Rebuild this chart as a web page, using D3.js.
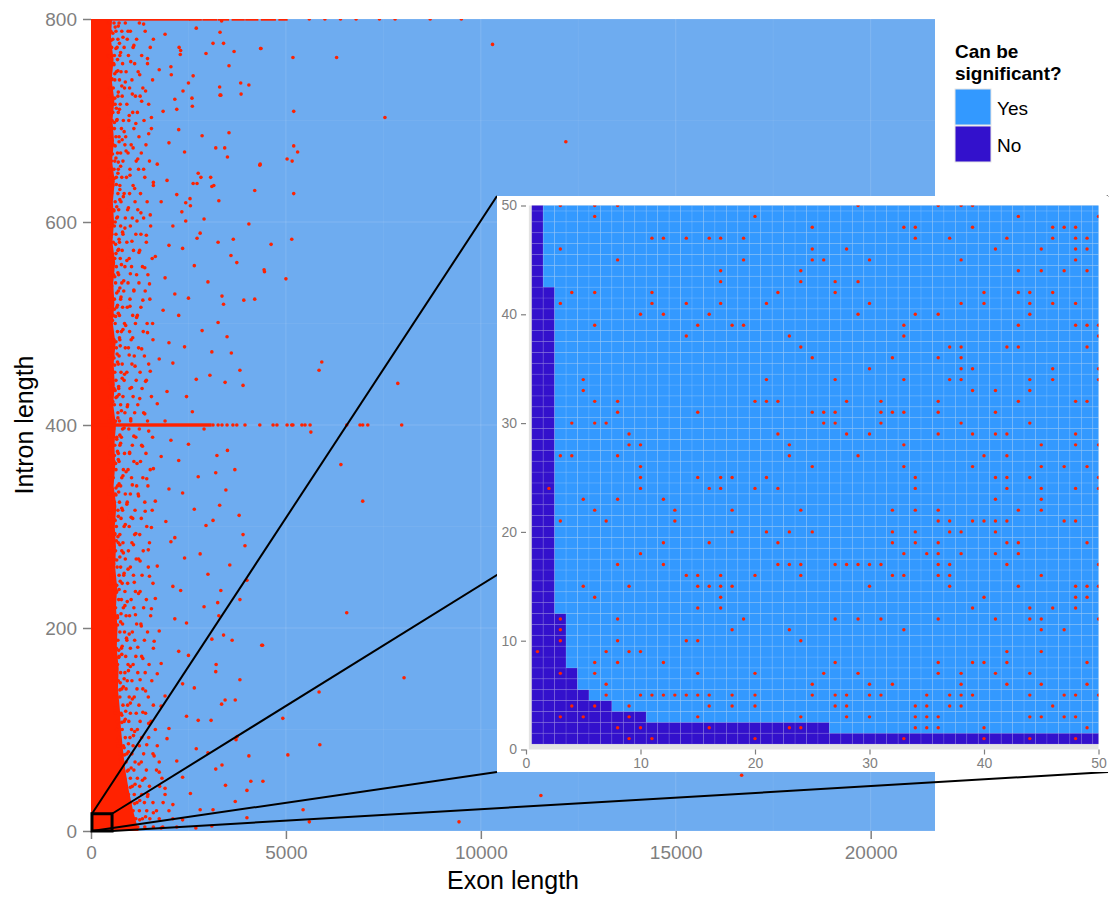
<!DOCTYPE html>
<html>
<head>
<meta charset="utf-8">
<script src="https://cdn.jsdelivr.net/npm/d3@7"></script>
<style>
body { margin: 0; background: #fff; }
svg text { font-family: "Liberation Sans", Arial, Helvetica, sans-serif; }
</style>
</head>
<body>
<script>
// ---- main scatter data (exon length, intron length) ----
var xTicks = [0, 5000, 10000, 15000, 20000];
var yTicks = [0, 200, 400, 600, 800];

// right edge of the saturated red band near exon = 0, per intron value
var denseEdge = [
  [800, 540], [780, 510], [760, 580], [740, 530], [720, 600], [700, 550], [680, 590],
  [660, 540], [640, 610], [620, 560], [600, 590], [580, 550], [560, 620], [540, 570],
  [520, 600], [500, 560], [480, 630], [460, 580], [440, 610], [420, 570], [400, 640],
  [380, 600], [360, 620], [340, 580], [320, 650], [300, 610], [280, 640], [260, 620],
  [240, 670], [220, 640], [200, 680], [180, 660], [160, 710], [140, 690], [120, 740],
  [100, 770], [80, 820], [60, 880], [40, 970], [20, 1080], [0, 1220]
];

// runs of overlapping dots along intron = 800 and intron = 400
var top800Runs = [[0, 2500], [2560, 2800], [2900, 3200], [3300, 3500], [3650, 3900], [4000, 4250], [4400, 4700], [4850, 5000]];
var top800Points = [5600, 6000, 6400, 6800, 7400, 7800, 8700, 9500];
var row400Runs = [[0, 3050]];
var row400Points = [3130, 3260, 3360, 3490, 3640, 3740, 3950, 4330, 4670, 4770, 5030, 5150, 5180, 5410, 5490, 5620, 6560, 6900, 6970, 7100, 7970];

// crowded dots just right of the band: [intron, [exon lengths]]
var innerRows = [
  [796, [455, 590, 720, 880, 1240]], [788, [510, 640, 790, 1010, 1390]],
  [780, [470, 560, 690, 930, 1170]], [772, [530, 670, 850, 1080, 1520]],
  [764, [440, 600, 740, 960, 1300]], [756, [495, 580, 810, 1120, 1450]],
  [748, [460, 650, 770, 900, 1210]], [740, [520, 610, 730, 1050, 1580]],
  [732, [480, 570, 860, 990, 1330]], [724, [450, 690, 800, 1140, 1260]],
  [716, [505, 620, 750, 920, 1480]], [708, [470, 560, 700, 1070, 1190]],
  [700, [540, 660, 830, 970, 1360]], [692, [460, 600, 780, 1100, 1550]],
  [684, [515, 640, 720, 890, 1230]], [676, [480, 570, 870, 1030, 1410]],
  [668, [450, 680, 760, 950, 1290]], [660, [525, 610, 820, 1160, 1500]],
  [652, [470, 590, 700, 1000, 1220]], [644, [500, 650, 790, 910, 1380]],
  [636, [455, 560, 740, 1080, 1600]], [628, [530, 690, 850, 990, 1270]],
  [620, [480, 620, 770, 1130, 1440]], [612, [445, 580, 710, 940, 1200]],
  [604, [510, 660, 880, 1060, 1350]], [596, [470, 600, 760, 1010, 1530]],
  [588, [535, 640, 820, 1150, 1280]], [580, [460, 570, 730, 920, 1420]],
  [572, [500, 690, 800, 1090, 1250]], [564, [450, 610, 750, 980, 1570]],
  [556, [525, 650, 870, 1040, 1320]], [548, [480, 580, 710, 1170, 1460]],
  [540, [510, 630, 790, 950, 1230]], [532, [460, 700, 840, 1100, 1390]],
  [524, [540, 600, 760, 1000, 1510]], [516, [470, 660, 810, 930, 1280]],
  [508, [500, 570, 730, 1070, 1190]], [500, [455, 620, 860, 1140, 1440]],
  [492, [530, 680, 780, 990, 1340]], [484, [480, 590, 740, 1030, 1590]],
  [476, [510, 650, 880, 960, 1220]], [468, [465, 560, 720, 1110, 1370]],
  [460, [545, 700, 800, 1050, 1480]], [452, [490, 610, 770, 920, 1260]],
  [444, [455, 640, 850, 1160, 1420]], [436, [520, 590, 710, 1000, 1310]],
  [428, [480, 670, 820, 1080, 1550]], [420, [505, 600, 760, 940, 1200]],
  [412, [540, 690, 870, 1120, 1350]], [404, [470, 630, 730, 1020, 1450]],
  [396, [515, 580, 810, 970, 1240]], [388, [460, 660, 780, 1150, 1580]],
  [380, [530, 610, 740, 1060, 1300]], [372, [490, 700, 860, 990, 1410]],
  [364, [455, 590, 720, 1100, 1270]], [356, [545, 640, 830, 950, 1520]],
  [348, [480, 570, 790, 1040, 1330]], [340, [510, 680, 760, 1170, 1460]],
  [332, [470, 620, 880, 1010, 1210]], [324, [535, 600, 730, 930, 1380]],
  [316, [495, 690, 810, 1130, 1570]], [308, [460, 580, 770, 1070, 1290]],
  [300, [525, 650, 850, 980, 1430]], [292, [480, 610, 740, 1120, 1250]],
  [284, [550, 700, 820, 1050, 1500]], [276, [500, 630, 790, 960, 1340]],
  [268, [470, 590, 880, 1160, 1220]], [260, [540, 670, 760, 1010, 1470]],
  [252, [510, 720, 840, 1090, 1310]], [244, [480, 600, 800, 940, 1590]],
  [236, [560, 660, 870, 1140, 1260]], [228, [520, 710, 780, 1030, 1420]],
  [220, [490, 630, 830, 1100, 1350]], [212, [570, 680, 900, 990, 1530]],
  [204, [530, 610, 810, 1170, 1280]], [196, [500, 740, 860, 1060, 1450]],
  [188, [580, 690, 920, 1120, 1370]], [180, [540, 650, 780, 1010, 1600]],
  [172, [600, 720, 890, 1150, 1300]], [164, [560, 680, 950, 1080, 1490]],
  [156, [610, 760, 870, 1200, 1390]], [148, [580, 700, 930, 1050, 1560]],
  [140, [630, 790, 900, 1180, 1330]], [132, [600, 740, 980, 1110, 1470]],
  [124, [650, 820, 940, 1230, 1600]], [116, [620, 770, 1010, 1160, 1400]],
  [108, [680, 850, 970, 1260, 1540]], [100, [660, 800, 1040, 1190, 1650]],
  [92, [710, 880, 1000, 1300, 1480]], [84, [690, 830, 1080, 1240, 1700]],
  [76, [750, 920, 1050, 1350, 1590]], [68, [780, 900, 1130, 1290, 1750]],
  [60, [820, 960, 1100, 1420, 1680]], [52, [860, 1010, 1190, 1380, 1820]],
  [44, [900, 1060, 1250, 1500, 1760]], [36, [960, 1110, 1300, 1460, 1900]],
  [28, [1020, 1180, 1370, 1590, 1850]], [20, [1080, 1240, 1430, 1680, 2000]],
  [12, [1150, 1320, 1510, 1750, 2100]], [4, [1200, 1380, 1600, 1840, 2200]]
];

var fringePoints = [
  [480,797],[560,786],[620,792],[700,793],[950,788],[1350,795],[1900,785],[2700,791],[3350,798],
  [520,779],[640,771],[730,776],[820,782],[1100,774],[1600,780],[2300,769],[3400,776],
  [470,763],[590,755],[680,760],[760,767],[1020,758],[1450,761],[2050,753],[2950,766],[4350,771],
  [540,741],[610,746],[690,749],[880,738],[1250,745],[1750,750],[2500,737],
  [500,731],[610,722],[700,728],[790,734],[1060,726],[1400,729],[2150,721],[3300,733],
  [460,707],[580,716],[650,712],[730,711],[980,705],[1300,719],[1850,709],[2600,714],[3850,726],
  [530,693],[600,698],[670,701],[850,689],[1150,697],[1550,703],[2250,691],
  [490,684],[620,675],[720,679],[800,681],[1080,673],[1480,687],[2000,678],[2850,685],
  [550,667],[640,663],[700,659],[900,670],[1200,662],[1700,657],[2400,669],[3500,664],
  [480,651],[600,643],[690,648],[760,655],[1000,646],[1350,652],[1950,641],[2750,648],
  [520,629],[650,637],[740,632],[830,625],[1120,633],[1600,639],[2200,627],[3100,635],[4200,631],
  [470,618],[590,611],[660,615],[740,622],[960,614],[1280,609],[1800,620],[2550,616],
  [540,597],[620,600],[680,605],[870,594],[1180,601],[1520,607],[2100,596],[2900,603],
  [500,585],[630,578],[720,583],[810,590],[1050,581],[1420,587],[2000,577],[2800,589],[3650,583],
  [560,565],[640,569],[710,573],[920,562],[1230,570],[1650,566],[2350,574],
  [490,552],[610,546],[690,550],[780,558],[1010,549],[1380,555],[1900,545],[2650,557],[4450,551],
  [530,537],[660,530],[740,535],[840,542],[1100,533],[1500,539],[2150,529],[3000,541],
  [480,521],[600,514],[680,518],[770,526],[1000,517],[1330,523],[1850,513],[2500,525],[3400,519],
  [550,503],[630,507],[700,510],[890,498],[1170,506],[1580,500],[2250,508],
  [510,489],[640,482],[730,486],[820,494],[1070,486],[1450,491],[2000,481],[2850,493],
  [470,473],[590,466],[670,470],[750,478],[980,469],[1300,475],[1750,465],[2400,477],[3600,471],
  [540,455],[610,459],[680,462],[860,450],[1130,458],[1520,453],[2100,461],[3050,449],
  [500,441],[620,434],[710,438],[800,446],[1040,437],[1400,443],[1950,433],[2700,445],[3900,439],
  [560,423],[640,427],[720,430],[930,418],[1250,426],[1700,421],[2450,428],
  [490,409],[610,403],[690,407],[780,414],[1020,406],[1380,411],[1900,404],[2600,413],
  [530,391],[660,386],[740,390],[850,397],[1100,389],[1480,394],[2050,385],[2900,396],
  [480,377],[600,370],[680,374],[760,382],[990,373],[1320,379],[1800,369],[2500,381],[3500,375],
  [550,359],[630,362],[700,366],[900,354],[1180,362],[1600,357],[2250,365],[3200,353],
  [500,345],[640,338],[720,342],[820,350],[1060,341],[1430,347],[2000,337],[2750,349],
  [560,327],[640,331],[710,334],[920,322],[1220,330],[1650,325],[2350,333],[3300,321],
  [490,313],[620,306],[700,310],[790,318],[1030,309],[1390,315],[1920,305],[2650,317],[3800,311],
  [540,297],[610,293],[690,290],[880,302],[1150,293],[1550,299],[2150,289],[2950,301],
  [510,279],[650,286],[740,282],[830,274],[1090,282],[1470,277],[2050,285],[2800,273],[3950,281],
  [580,263],[660,267],[740,270],[950,258],[1260,266],[1700,261],[2400,269],
  [520,249],[660,242],[750,246],[850,254],[1110,245],[1500,251],[2100,241],[3000,253],[4000,247],
  [570,231],[650,235],[720,238],[930,226],[1220,234],[1650,229],[2300,237],[3250,225],
  [530,217],[680,210],[770,214],[870,222],[1140,213],[1550,219],[2150,209],[2900,221],
  [600,199],[680,203],[760,206],[980,194],[1290,202],[1750,197],[2450,205],[3400,193],
  [560,185],[710,178],[800,182],[910,190],[1200,181],[1620,187],[2250,177],[3100,189],[4400,183],
  [620,167],[710,171],[790,174],[1010,162],[1330,170],[1800,165],[2500,173],
  [590,153],[750,146],[850,150],[960,158],[1260,149],[1700,155],[2350,145],[3200,157],
  [650,135],[740,139],[830,142],[1060,130],[1400,138],[1900,133],[2650,141],[3700,129],
  [620,121],[790,114],[890,118],[1010,126],[1330,117],[1800,123],[2450,113],[3350,125],
  [700,103],[790,107],[880,110],[1120,98],[1480,106],[2000,101],[2750,109],
  [670,89],[850,82],[960,86],[1090,94],[1430,85],[1950,91],[2700,81],[3750,93],
  [760,71],[860,75],[960,78],[1230,66],[1620,74],[2200,69],[3000,77],
  [820,55],[930,59],[1030,62],[1320,50],[1750,58],[2350,53],[3200,61],[4100,49],
  [900,39],[1010,43],[1130,46],[1450,34],[1900,42],[2550,37],[3450,45],
  [1000,23],[1120,27],[1250,30],[1600,18],[2100,26],[2800,21],[3700,29],
  [1100,7],[1250,11],[1400,14],[1800,3],[2350,11],[3100,5],[4000,13],[5600,9]
];

var sparsePoints = [
  [10300,775],[12180,679],[7540,703],[6300,762],[5180,762],[5200,709],[5200,675],[5030,662],
  [5200,628],[5150,583],[5000,544],[5920,462],[5850,454],[7870,441],[4440,553],[4620,578],
  [4330,656],[4200,524],[3670,768],[4360,771],[3330,725],[5640,393],[6410,361],[6970,325],
  [6560,215],[5850,137],[5870,85],[5050,75],[4410,49],[5440,21],[8030,151],[9440,9],
  [11540,35],[16690,55],[4920,111],[4050,74],[3280,212],[4380,183],
  [3130,776],[3310,787],[3540,754],[3840,737],[4050,735],[3310,725],[3540,688],[3200,673],
  [3430,673],[4340,657],[5160,660],[5300,669],[4050,598],[3260,580],[2720,584],[2620,638],
  [2720,638],[2820,644],[3070,644],[3150,636],[3280,621],[2430,619],[2540,623],[2330,610],
  [2430,601],[2620,744],[2590,722],[2360,729],[2200,711],[2260,772],[2290,765],[2060,745],
  [3590,567],[3740,560],[3360,527],[3920,523],[3260,501],[3490,487],[3100,472],[3820,454],
  [3440,442],[3230,370],[3690,356],[3460,336],[3130,306],[3900,292],[3560,262],[3330,237],
  [3820,228],[3620,188],[3210,164],[3820,149],[3440,129],[3080,109],[3720,90],[3360,65],
  [4000,40],[3130,21],[2690,3]
];

// ---- inset data: 1..50 x 1..50 grid ----
var insetTicks = [0, 10, 20, 30, 40, 50];
// highest intron length (per exon length 1..50) that can NOT be significant
var noMax = [50, 42, 12, 7, 5, 4, 4, 3, 3, 3,
  2, 2, 2, 2, 2, 2, 2, 2, 2, 2, 2, 2, 2, 2, 2, 2,
  1, 1, 1, 1, 1, 1, 1, 1, 1, 1, 1, 1, 1, 1, 1, 1, 1, 1, 1, 1, 1, 1, 1, 1];
// observed genes in the inset: [intron length, [exon lengths]]
var insetRows = [
  [50, [3,6,8,29,36,38,39]],
  [49, [6,20,43,50]],
  [48, [25,33,34,39,46,47,48]],
  [47, [11,12,14,16,17,19,34,37,42,46,48,49]],
  [46, [3,25,28,41,45,48,49]],
  [45, [8,19,25,26,30,38,48]],
  [44, [17,24,43,45,47,49]],
  [43, [17,24,27,29]],
  [42, [4,6,11,22,27,40,43,44,46]],
  [41, [3,11,14,17,21,30,38,40,44,46,48]],
  [40, [10,12,16,29,34,36,44]],
  [39, [6,15,18,19,33,43,48,49,50]],
  [38, [14,23,33,50]],
  [37, [24,37,38,42,43,49]],
  [36, [25,32,36,38]],
  [35, [30,38,39,46,50]],
  [34, [5,21,27,33,37,38,44,46,50]],
  [33, [5,39,41,44]],
  [32, [6,8,20,21,22,28,31,36,43,48,49]],
  [31, [8,15,25,26,27,31,32,33,36,41]],
  [30, [4,6,7,26,27,31,38,44]],
  [29, [9,22,28,30,36,39,41,42,48]],
  [28, [9,10,23,33,45,48,50]],
  [27, [3,4,8,23,29,40,42]],
  [26, [10,25,33,39,45,47,49]],
  [25, [10,15,17,18,21,34,41,42,44,50]],
  [24, [2,10,16,17,20,22,34,42,45,48,50]],
  [23, [5,8,12,41,45]],
  [22, [6,13,18,24,32,34,36,43,45]],
  [21, [3,7,13,36,37,39,40,41,42,47,48]],
  [20, [18,21,23,25,32,34,37,38,41]],
  [19, [12,16,22,32,34,36,42,43,49]],
  [18, [10,33,35,36,38,41,43]],
  [17, [8,12,22,23,24,27,28,29,30,31,36,37,42,50]],
  [16, [14,15,17,20,24,32,33,36,37,45]],
  [15, [5,9,15,16,17,18,30,37,43,48,49,50]],
  [14, [6,17,40,48,49]],
  [13, [15,17,39,44,46,48]],
  [12, [3,8,19,27,29,31,36,41,44,45,50]],
  [11, [3,18,23,33,45,47]],
  [10, [3,8,14,15,24]],
  [9, [1,7,9,10,42,45]],
  [8, [6,8,12,27,36,39,40,42,49]],
  [7, [3,6,15,20,26,29,36,38,41,44]],
  [6, [7,25,30,32,38,42,45,49]],
  [5, [7,10,11,12,13,14,15,16,18,20,25,27,28,30,31,35,37,38,39,44,47,48,50]],
  [4, [4,6,9,16,18,20,27,28,34,35,37,38,46]],
  [3, [3,5,9,15,24,28,30,34,35,36,44,45,47,48]],
  [2, [8,10,16,23,24,34,35,36,40,49]],
  [1, [9,11,20,33,40,44,48]]
];

var legendKeys = ["Yes", "No"];
var legendColors = ["#3399ff", "#3311cc"];

var width = 1112, height = 900;
var red = "#ff2200", grey = "#7f7f7f";

var svg = d3.select("body").append("svg")
    .attr("width", width)
    .attr("height", height);

// ---------- main plot ----------
var x = d3.scaleLinear().domain([0, 21650]).range([91, 935]);
var y = d3.scaleLinear().domain([0, 800]).range([831, 19]);

svg.append("defs").append("clipPath").attr("id", "mainClip")
  .append("rect")
    .attr("x", x(0)).attr("y", y(800))
    .attr("width", x.range()[1] - x(0)).attr("height", y(0) - y(800));

svg.append("rect")
    .attr("x", x(0)).attr("y", y(800))
    .attr("width", x.range()[1] - x(0)).attr("height", y(0) - y(800))
    .attr("fill", "#6eacf0");

var grid = svg.append("g").attr("class", "grid");
grid.selectAll(".vx").data(d3.range(0, 21650, 2500)).enter().append("line")
    .attr("x1", d => x(d)).attr("x2", d => x(d))
    .attr("y1", y(800)).attr("y2", y(0))
    .attr("stroke", "#fff").attr("stroke-opacity", d => d % 5000 ? 0.06 : 0.14);
grid.selectAll(".hy").data(d3.range(0, 801, 100)).enter().append("line")
    .attr("y1", d => y(d)).attr("y2", d => y(d))
    .attr("x1", x(0)).attr("x2", x.range()[1])
    .attr("stroke", "#fff").attr("stroke-opacity", d => d % 200 ? 0.06 : 0.14);

var pts = svg.append("g").attr("clip-path", "url(#mainClip)");

var band = d3.area()
    .y(d => y(d[0]))
    .x0(x(0))
    .x1(d => x(d[1]));
pts.append("path").datum(denseEdge).attr("d", band).attr("fill", red);

// runs along 800 and 400
var runs = top800Runs.map(r => [800, r[0], r[1]]).concat(row400Runs.map(r => [400, r[0], r[1]]));
pts.selectAll(".run").data(runs).enter().append("rect")
    .attr("x", d => x(d[1]) - 1.7)
    .attr("width", d => x(d[2]) - x(d[1]) + 3.4)
    .attr("y", d => y(d[0]) - 1.7)
    .attr("height", 3.4)
    .attr("fill", red);

var innerPoints = [];
innerRows.forEach(function(r) {
  r[1].forEach(function(e) { innerPoints.push([e, r[0]]); });
});

var allPoints = innerPoints.concat(fringePoints).concat(sparsePoints)
    .concat(top800Points.map(v => [v, 800]))
    .concat(row400Points.map(v => [v, 400]));

pts.selectAll("circle").data(allPoints).enter().append("circle")
    .attr("cx", d => x(d[0]))
    .attr("cy", d => y(d[1]))
    .attr("r", 1.8)
    .attr("fill", red);

// axes
var xAxis = svg.append("g")
    .attr("transform", "translate(0," + y(0) + ")")
    .call(d3.axisBottom(x).tickValues(xTicks).tickFormat(d3.format("d")).tickSize(8).tickPadding(7));
var yAxis = svg.append("g")
    .attr("transform", "translate(" + x(0) + ",0)")
    .call(d3.axisLeft(y).tickValues(yTicks).tickSize(8).tickPadding(6));
[xAxis, yAxis].forEach(function(a) {
  a.select(".domain").remove();
  a.selectAll(".tick line").attr("stroke", grey).attr("stroke-width", 1.5);
  a.selectAll(".tick text").attr("fill", grey).style("font-size", "19px");
});

svg.append("text")
    .attr("x", (x(0) + x.range()[1]) / 2)
    .attr("y", 889)
    .attr("text-anchor", "middle")
    .style("font-size", "25px")
    .text("Exon length");

svg.append("text")
    .attr("transform", "translate(33," + (y(400)) + ") rotate(-90)")
    .attr("text-anchor", "middle")
    .style("font-size", "25px")
    .text("Intron length");

// ---------- zoom lines + box ----------
var box = {x0: 25, x1: 540, y0: 0, y1: 17};
var inset = {left: 497, right: 1108, top: 196, bottom: 772};
var boxL = x(box.x0), boxR = x(box.x1), boxT = y(box.y1), boxB = y(box.y0);

var zl = [
  [boxL, boxT, inset.left, inset.top],
  [boxR, boxT, inset.right, inset.top],
  [boxL, boxB, inset.left, inset.bottom],
  [boxR, boxB, inset.right, inset.bottom]
];
svg.selectAll(".zoomline").data(zl).enter().append("line")
    .attr("x1", d => d[0]).attr("y1", d => d[1])
    .attr("x2", d => d[2]).attr("y2", d => d[3])
    .attr("stroke", "#000").attr("stroke-width", 2);

svg.append("rect")
    .attr("x", boxL).attr("y", boxT)
    .attr("width", boxR - boxL).attr("height", boxB - boxT)
    .attr("fill", "none").attr("stroke", "#000").attr("stroke-width", 3);

// ---------- inset ----------
var ins = svg.append("g").attr("class", "inset");
ins.append("rect")
    .attr("x", inset.left).attr("y", inset.top)
    .attr("width", inset.right - inset.left).attr("height", inset.bottom - inset.top)
    .attr("fill", "#fff");

var xi = d3.scaleLinear().domain([0, 50]).range([526, 1098.5]);
var yi = d3.scaleLinear().domain([0, 50]).range([749.5, 205.5]);

ins.append("defs").append("clipPath").attr("id", "insetClip")
  .append("rect")
    .attr("x", xi(0.25)).attr("y", yi(50))
    .attr("width", xi(50) - xi(0.25)).attr("height", yi(0) - yi(50));

ins.append("rect")
    .attr("x", xi(0.25)).attr("y", yi(50))
    .attr("width", xi(50) - xi(0.25)).attr("height", yi(0) - yi(50))
    .attr("fill", "#e3e3e3");

var cells = [];
noMax.forEach(function(m, i) {
  for (var j = 1; j <= 50; j++) cells.push({ex: i + 1, in: j, no: j <= m});
});

var tiles = ins.append("g").attr("clip-path", "url(#insetClip)");
tiles.selectAll("rect").data(cells).enter().append("rect")
    .attr("x", d => xi(d.ex - 0.5))
    .attr("y", d => yi(d.in + 0.5))
    .attr("width", xi(1) - xi(0))
    .attr("height", yi(0) - yi(1))
    .attr("fill", d => d.no ? legendColors[1] : legendColors[0])
    .attr("stroke", "rgba(255,255,255,0.13)")
    .attr("stroke-width", 0.8);

var insetPts = [];
insetRows.forEach(function(r) {
  r[1].forEach(function(e) { insetPts.push([e, r[0]]); });
});
tiles.selectAll("circle").data(insetPts).enter().append("circle")
    .attr("cx", d => xi(d[0]))
    .attr("cy", d => yi(d[1]))
    .attr("r", 1.7)
    .attr("fill", red);

var xiAxis = ins.append("g")
    .attr("transform", "translate(0," + yi(0) + ")")
    .call(d3.axisBottom(xi).tickValues(insetTicks).tickSize(5).tickPadding(4));
var yiAxis = ins.append("g")
    .attr("transform", "translate(" + xi(0) + ",0)")
    .call(d3.axisLeft(yi).tickValues(insetTicks).tickSize(5).tickPadding(4));
[xiAxis, yiAxis].forEach(function(a) {
  a.select(".domain").remove();
  a.selectAll(".tick line").attr("stroke", grey).attr("stroke-width", 1.2);
  a.selectAll(".tick text").attr("fill", grey).style("font-size", "14px");
});

// ---------- legend ----------
var lg = svg.append("g").attr("transform", "translate(955,0)");
lg.append("text").attr("x", 0).attr("y", 58)
    .style("font-size", "19px").style("font-weight", "bold").text("Can be");
lg.append("text").attr("x", 0).attr("y", 80)
    .style("font-size", "19px").style("font-weight", "bold").text("significant?");

var key = lg.selectAll(".key").data(legendKeys).enter().append("g")
    .attr("transform", (d, i) => "translate(0," + (89 + i * 37) + ")");
key.append("rect")
    .attr("width", 36).attr("height", 36)
    .attr("fill", (d, i) => legendColors[i])
    .attr("stroke", "#e6e6e6").attr("stroke-width", 1);
key.append("text")
    .attr("x", 42).attr("y", 26)
    .style("font-size", "19px")
    .text(d => d);
</script>
</body>
</html>
